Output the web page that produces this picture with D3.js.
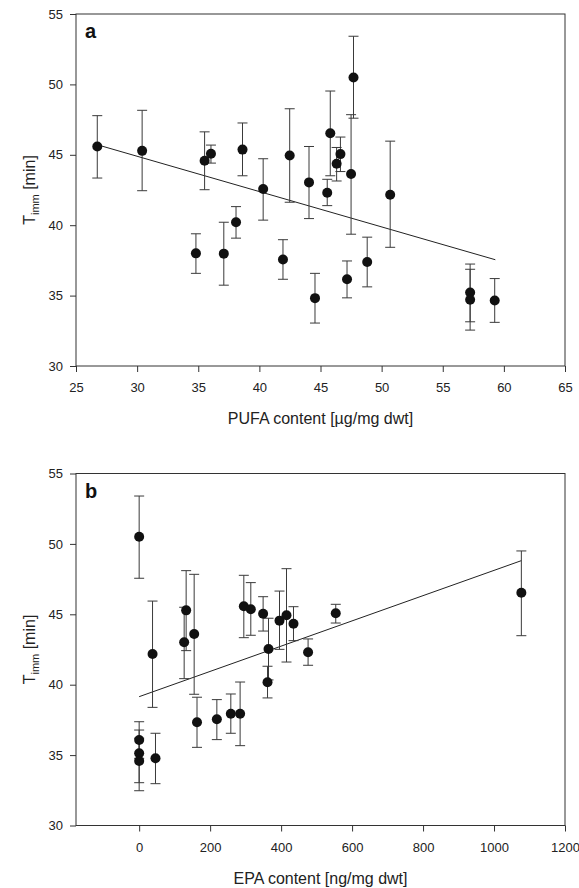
<!DOCTYPE html>
<html>
<head>
<meta charset="utf-8">
<script src="https://cdn.jsdelivr.net/npm/d3@7"></script>
<style>
  body { margin: 0; background: #fff; }
  svg { display: block; font-family: "Liberation Sans", Arial, sans-serif; }
  .axis path, .axis line { stroke: #333; }
  .axis text { font-size: 13px; fill: #222; }
</style>
</head>
<body>
<svg id="chart" width="579" height="888"></svg>
<script>
// panel a: PUFA content vs immobilisation time
let pufaX  = [26.74, 30.41, 35.52, 36.04, 38.62, 40.31, 42.48, 44.06, 45.55, 45.80, 46.32, 46.63, 47.50, 47.70, 50.70, 34.81, 37.09, 38.09, 41.93, 44.55, 47.17, 48.82, 57.24, 57.24, 59.25];
let pufaY  = [45.59, 45.28, 44.58, 45.07, 45.37, 42.57, 44.95, 43.04, 42.31, 46.53, 44.36, 45.05, 43.64, 50.49, 42.16, 38.00, 37.98, 40.21, 37.57, 34.82, 36.16, 37.39, 35.22, 34.70, 34.65];
let pufaHi = [47.78, 48.16, 46.63, 45.69, 47.26, 44.72, 48.27, 45.59, 43.26, 49.53, 45.52, 46.26, 47.85, 53.42, 45.97, 39.39, 40.21, 41.32, 38.97, 36.58, 37.46, 39.15, 37.24, 36.87, 36.21];
let pufaLo = [43.35, 42.45, 42.52, 44.41, 43.51, 40.36, 41.63, 40.47, 41.39, 43.51, 43.14, 43.81, 39.36, 47.60, 38.43, 36.58, 35.74, 39.08, 36.16, 33.05, 34.84, 35.62, 33.14, 32.55, 33.10];
let pufaFit = {x0: 26.8, x1: 59.3, intercept: 52.42, slope: -0.2508};
let pufaTicks = [25, 30, 35, 40, 45, 50, 55, 60, 65];

// panel b: EPA content vs immobilisation time
let epaX  = [0, 0, 0, 0, 37.7, 46, 126.8, 132.4, 155, 163, 218.9, 258.3, 284.5, 294.9, 314.6, 349.3, 364.5, 361.7, 395.5, 415.2, 434.9, 476, 554, 1077];
let epaY  = [50.51, 36.07, 35.13, 34.58, 42.18, 34.77, 43.01, 45.28, 43.60, 37.33, 37.54, 37.94, 37.94, 45.57, 45.36, 45.04, 42.54, 40.17, 44.55, 44.93, 44.33, 42.30, 45.07, 46.53];
let epaHi = [53.40, 37.37, 36.78, 36.20, 45.94, 36.55, 45.50, 48.10, 47.84, 39.11, 38.94, 39.34, 40.19, 47.77, 47.25, 46.25, 44.72, 41.31, 46.65, 48.24, 45.54, 43.25, 45.71, 49.50];
let epaLo = [47.56, 34.77, 33.04, 32.47, 38.39, 32.97, 40.43, 42.42, 39.32, 35.55, 36.10, 36.55, 35.67, 43.34, 43.51, 43.81, 40.34, 39.06, 42.51, 41.61, 43.13, 41.38, 44.38, 43.48];
let epaFit = {x0: 0, x1: 1077, intercept: 39.15, slope: 0.00897};
let epaTicks = [0, 200, 400, 600, 800, 1000, 1200];

let yTicks = [30, 35, 40, 45, 50, 55];

let svg = d3.select("#chart");
let margin = {left: 76};
let width = 489;
let height = 352;

function drawPanel(top, cfg){
    let g = svg.append("g")
        .attr("transform", "translate(" + margin.left + "," + top + ")");

    let xScale = d3.scaleLinear().domain(cfg.xDomain).range([0, width]);
    let yScale = d3.scaleLinear().domain([30, 55]).range([height, 0]);

    // frame
    g.append("rect")
        .attr("width", width).attr("height", height)
        .attr("fill", "none").attr("stroke", "#333").attr("stroke-width", 1);

    g.append("g")
        .attr("class", "axis")
        .attr("transform", "translate(0," + height + ")")
        .call(d3.axisBottom(xScale).tickValues(cfg.ticks).tickFormat(d3.format("d"))
            .tickSize(6).tickSizeOuter(0).tickPadding(11))
        .call(a => a.select(".domain").remove());

    g.append("g")
        .attr("class", "axis")
        .call(d3.axisLeft(yScale).tickValues(yTicks).tickFormat(d3.format("d"))
            .tickSize(6).tickSizeOuter(0).tickPadding(7))
        .call(a => a.select(".domain").remove());

    // regression line
    let fit = cfg.fit;
    g.append("line")
        .attr("x1", xScale(fit.x0)).attr("y1", yScale(fit.intercept + fit.slope * fit.x0))
        .attr("x2", xScale(fit.x1)).attr("y2", yScale(fit.intercept + fit.slope * fit.x1))
        .attr("stroke", "#222").attr("stroke-width", 1);

    let data = cfg.x.map((x, i) => ({x: x, y: cfg.y[i], hi: cfg.hi[i], lo: cfg.lo[i]}));

    let bars = g.selectAll(".err").data(data).enter().append("g")
        .attr("class", "err")
        .attr("stroke", "#3a3a3a").attr("stroke-width", 1);
    bars.append("line")
        .attr("x1", d => xScale(d.x)).attr("x2", d => xScale(d.x))
        .attr("y1", d => yScale(d.hi)).attr("y2", d => yScale(d.lo));
    bars.append("line")
        .attr("x1", d => xScale(d.x) - 5).attr("x2", d => xScale(d.x) + 5)
        .attr("y1", d => yScale(d.hi)).attr("y2", d => yScale(d.hi));
    bars.append("line")
        .attr("x1", d => xScale(d.x) - 5).attr("x2", d => xScale(d.x) + 5)
        .attr("y1", d => yScale(d.lo)).attr("y2", d => yScale(d.lo));

    g.selectAll(".dot").data(data).enter().append("circle")
        .attr("class", "dot")
        .attr("cx", d => xScale(d.x))
        .attr("cy", d => yScale(d.y))
        .attr("r", 5)
        .attr("fill", "#111");

    // panel letter
    g.append("text")
        .attr("x", 9).attr("y", 24)
        .attr("font-size", 20).attr("font-weight", "bold")
        .attr("fill", "#111")
        .text(cfg.letter);

    // x title
    g.append("text")
        .attr("x", width / 2).attr("y", height + 58)
        .attr("text-anchor", "middle")
        .attr("font-size", 16).attr("fill", "#222")
        .text(cfg.xTitle);

    // y title
    let yt = g.append("text")
        .attr("transform", "translate(-41," + (height / 2) + ") rotate(-90)")
        .attr("text-anchor", "middle")
        .attr("font-size", 16).attr("fill", "#222");
    yt.append("tspan").text("T");
    yt.append("tspan").attr("font-size", 11).attr("dy", 4).text("imm");
    yt.append("tspan").attr("dy", -4).text(" [min]");
}

drawPanel(14, {
    xDomain: [25, 65], ticks: pufaTicks, fit: pufaFit, letter: "a",
    x: pufaX, y: pufaY, hi: pufaHi, lo: pufaLo,
    xTitle: "PUFA content [µg/mg dwt]"
});

drawPanel(473.5, {
    xDomain: [-178, 1200], ticks: epaTicks, fit: epaFit, letter: "b",
    x: epaX, y: epaY, hi: epaHi, lo: epaLo,
    xTitle: "EPA content [ng/mg dwt]"
});
</script>
</body>
</html>
